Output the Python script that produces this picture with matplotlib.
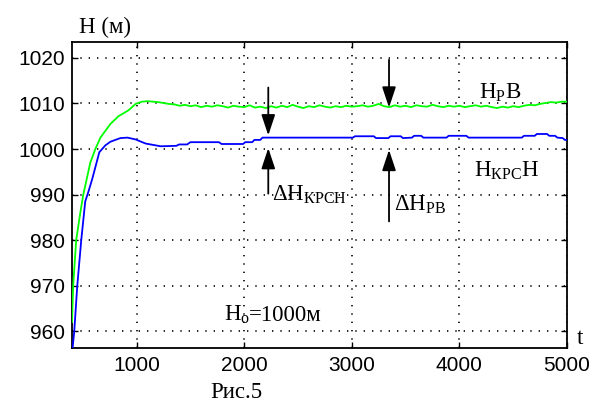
import matplotlib
matplotlib.use("Agg")
import matplotlib.pyplot as plt

plt.rcParams['mathtext.fontset'] = 'custom'
plt.rcParams['mathtext.rm'] = 'Liberation Serif'
plt.rcParams['mathtext.it'] = 'Liberation Serif:italic'
plt.rcParams['mathtext.bf'] = 'Liberation Serif:bold'

# H_PB (green)
green_x = [400, 411, 439, 477, 505, 533, 570, 617, 664, 757, 832, 925, 991,
           1050, 1100, 1150, 1200, 1250, 1300, 1350, 1400, 1450, 1500, 1550,
           1600, 1650, 1700, 1750, 1800, 1850, 1900, 1950, 2000, 2050, 2100,
           2150, 2200, 2250, 2300, 2350, 2400, 2450, 2500, 2550, 2600, 2650,
           2700, 2750, 2800, 2850, 2900, 2950, 3000, 3050, 3100, 3150, 3200,
           3250, 3300, 3350, 3400, 3450, 3500, 3550, 3600, 3650, 3700, 3750,
           3800, 3850, 3900, 3950, 4000, 4050, 4100, 4150, 4200, 4250, 4300,
           4350, 4400, 4450, 4500, 4550, 4600, 4650, 4700, 4750, 4800, 4850,
           4900, 4950, 5000]
green_y = [962, 970, 980, 986, 990, 993, 997, 1000, 1002.5, 1005.5, 1007.2, 1008.5, 1009.9,
           1010.4, 1010.5, 1010.4, 1010.3, 1010.1, 1009.9, 1009.8, 1009.5, 1009.7, 1009.4, 1009.6,
           1009.2, 1009.5, 1009.3, 1009.6, 1009.4, 1009.1, 1009.5, 1009.3, 1009.2, 1009.6, 1009.1,
           1009.3, 1009.0, 1009.4, 1009.1, 1009.5, 1009.2, 1009.7, 1009.3, 1009.0, 1009.4, 1009.2,
           1009.6, 1009.3, 1009.1, 1009.4, 1009.2, 1009.5, 1009.3, 1009.4, 1009.6, 1009.3, 1009.5,
           1009.9, 1009.4, 1009.2, 1009.6, 1009.3, 1009.5, 1009.2, 1009.6, 1009.4, 1009.3, 1009.7,
           1009.4, 1009.2, 1009.5, 1009.3, 1009.5, 1009.2, 1009.4, 1009.6, 1009.3, 1009.5, 1009.2,
           1009.0, 1009.3, 1009.1, 1009.4, 1009.2, 1009.5, 1009.7, 1009.6, 1009.9, 1010.1, 1010.3,
           1010.2, 1010.4, 1010.4]

# H_KPC H (blue)
blue_x = [400, 421, 449, 486, 523, 551, 589, 654, 710, 757, 850, 916, 991, 1084,
          1178, 1224, 1370, 1395, 1470, 1500, 1765, 1790, 1990, 2010, 2075, 2095,
          2150, 2170, 3010, 3030, 3205, 3225, 3340, 3360, 3455, 3475, 3560, 3579,
          3645, 3665, 3880, 3900, 4065, 4085, 4580, 4600, 4700, 4720, 4815, 4835,
          4890, 4910, 4960, 4980, 5000]
blue_y = [955, 960, 970, 980, 988.5, 990.5, 993.5, 999.3, 1000.8, 1001.6, 1002.4, 1002.5, 1002.1, 1001.2,
          1000.8, 1000.6, 1000.7, 1001.0, 1001.0, 1001.5, 1001.5, 1001.1, 1001.1, 1001.5, 1001.5, 1002.0,
          1002.0, 1002.5, 1002.5, 1002.8, 1002.8, 1002.4, 1002.4, 1002.8, 1002.8, 1002.4, 1002.5, 1002.9,
          1002.9, 1002.5, 1002.5, 1002.9, 1002.9, 1002.5, 1002.5, 1002.9, 1002.9, 1003.3, 1003.3, 1002.9,
          1002.9, 1002.5, 1002.4, 1002.0, 1002.0]

xticks = [1000, 2000, 3000, 4000, 5000]
yticks = [960, 970, 980, 990, 1000, 1010, 1020]

fig = plt.figure(figsize=(6.04, 4.03), dpi=100)
ax = fig.add_axes([72/604, 1-348/403, (567-72)/604, (348-42)/403])

ax.plot(green_x, green_y, color='#00ff00', lw=1.3, zorder=3)
ax.plot(blue_x, blue_y, color='#0000ff', lw=1.3, zorder=3)

ax.set_xlim(400, 5000)
ax.set_ylim(956.3, 1023.5)
ax.set_xticks(xticks)
ax.set_yticks(yticks)
ax.tick_params(direction='in', length=4, width=1, top=True, right=True,
               labelsize=15, colors='k')
ax.tick_params(axis='x', pad=6)
ax.tick_params(axis='y', pad=5)
for lab in ax.get_xticklabels() + ax.get_yticklabels():
    lab.set_fontfamily('Liberation Sans')
for s in ax.spines.values():
    s.set_linewidth(1.3)

# dotted grid at the tick positions
for xv in xticks:
    ax.axvline(xv, color='k', lw=1.2, linestyle=(0, (0.8, 4.2)), zorder=1)
for yv in yticks:
    ax.axhline(yv, color='k', lw=1.2, linestyle=(0, (0.8, 4.2)), zorder=1)

serif = 'Liberation Serif'
fs = 16.5
ax.text(4178, 1011.1, r'$\mathrm{Н_{Р}В}$', fontsize=fs, va='baseline', ha='left')
ax.text(4140, 993.9, r'$\mathrm{Н_{КРС}Н}$', fontsize=fs, va='baseline', ha='left')
ax.text(2262, 988.6, r'$\mathrm{ΔН_{КРСН}}$', fontsize=fs, va='baseline', ha='left')
ax.text(3393, 986.5, r'$\mathrm{ΔН_{РВ}}$', fontsize=fs, va='baseline', ha='left')
ax.text(1813, 962.2, r'$\mathrm{Н_{о}}$', fontsize=fs, va='baseline', ha='left')
ax.text(2045, 962.2, '=1000м', fontsize=fs, family=serif, va='baseline', ha='left')

arrow = dict(arrowstyle='-|>,head_length=0.9,head_width=0.3', color='k', lw=1.3,
             mutation_scale=14, shrinkA=0, shrinkB=0)
ax.annotate('', xy=(2224, 1003.0), xytext=(2224, 1013.5), arrowprops=arrow)
ax.annotate('', xy=(2224, 1000.2), xytext=(2224, 990.2), arrowprops=arrow)
ax.annotate('', xy=(3346, 1009.1), xytext=(3346, 1019.6), arrowprops=arrow)
ax.annotate('', xy=(3346, 999.8), xytext=(3346, 984.1), arrowprops=arrow)

fig.text(79/604, 1-33/403, 'Н (м)', fontsize=fs, family=serif, va='baseline', ha='left')
fig.text(577/604, 1-344/403, 't', fontsize=fs, family=serif, va='baseline', ha='left')
fig.text(210/604, 1-398/403, 'Рис.5', fontsize=fs, family=serif, va='baseline', ha='left')

fig.savefig('out.png', dpi=100)
